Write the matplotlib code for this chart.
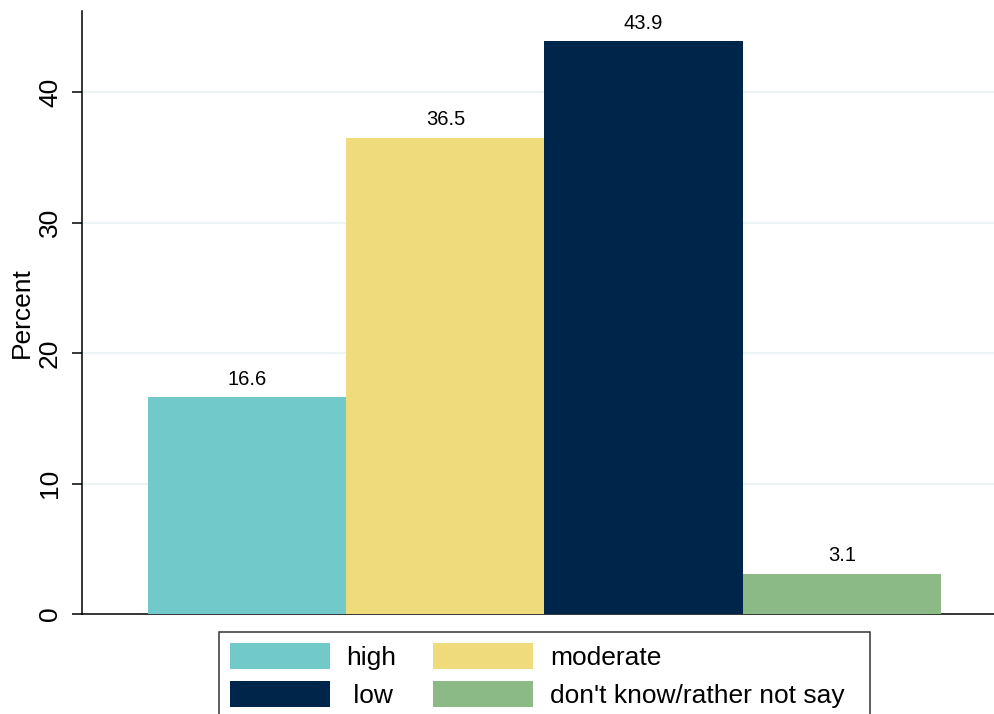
import matplotlib
matplotlib.use("Agg")
import matplotlib.pyplot as plt
from matplotlib.patches import Patch

categories = ["high", "moderate", "low", "don't know/rather not say"]
legend_labels = ["high", "moderate", " low", "don't know/rather not say  "]
values = [16.6, 36.5, 43.9, 3.1]
colors = ["#72c9c9", "#efdb7b", "#00254b", "#8bba87"]
yticks = [0, 10, 20, 30, 40]

plt.rcParams['font.family'] = ['Liberation Sans', 'DejaVu Sans']

W, H = 995, 714
fig = plt.figure(figsize=(W / 100, H / 100), dpi=100)
ax = fig.add_axes([82 / W, 100 / H, 1 - 82 / W, (614 - 11) / H])

xs = list(range(len(values)))
bars = ax.bar(xs, values, width=1.0, color=colors, linewidth=0, zorder=3)
ax.bar_label(bars, labels=[f"{v:.1f}" for v in values], padding=6, fontsize=14.5, zorder=4)

ax.set_xlim(-0.5 - 66 / 198.25, 3.5 + 54 / 198.25)
ax.set_ylim(0, (614 - 11) / 13.05)
ax.set_xticks([])
ax.set_yticks(yticks)
ax.set_yticklabels([str(t) for t in yticks], rotation=90, va='center', fontsize=19)
ax.tick_params(axis='y', direction='out', length=7.2, width=1.1, pad=7.2, color='black')
for t in yticks[1:]:
    ax.axhline(t, color='#eaf2f3', linewidth=1.3, zorder=1)

ax.set_ylabel("Percent", fontsize=19, labelpad=3)
for s in ['top', 'right']:
    ax.spines[s].set_visible(False)
for s in ['left', 'bottom']:
    ax.spines[s].set_linewidth(1.1)
    ax.spines[s].set_color('black')

order = [0, 2, 1, 3]
handles = [Patch(facecolor=colors[i], linewidth=0) for i in order]
labels = [legend_labels[i] for i in order]
leg = fig.legend(handles, labels, ncol=2, loc='upper left',
                 bbox_to_anchor=(219 / W, 1 - 632 / H), fontsize=19,
                 frameon=True, fancybox=False, edgecolor='black',
                 handlelength=3.79, handleheight=1.14, handletextpad=0.64,
                 columnspacing=1.4, borderpad=0.4, labelspacing=0.45,
                 borderaxespad=0)
leg.get_frame().set_linewidth(1.1)

fig.savefig("out.png", dpi=100)
